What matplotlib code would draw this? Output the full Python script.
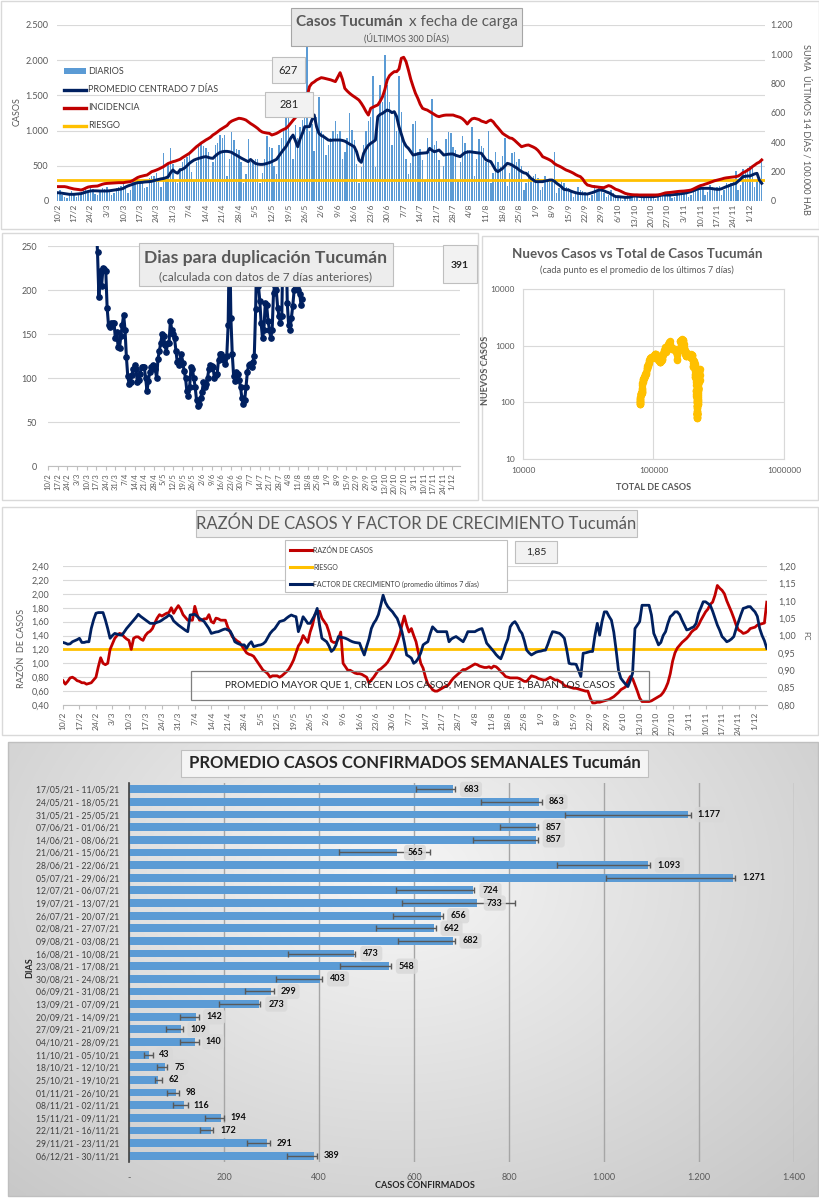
import numpy as np
import matplotlib
matplotlib.use("Agg")
import matplotlib.pyplot as plt
from matplotlib.patches import Rectangle
from matplotlib.ticker import NullLocator

plt.rcParams['font.family'] = ['Lato', 'DejaVu Sans']

W, H = 820, 1200

# ----------------------------------------------------------------- DATA
TICK_LABELS = ["10/2", "17/2", "24/2", "3/3", "10/3", "17/3", "24/3", "31/3", "7/4", "14/4",
               "21/4", "28/4", "5/5", "12/5", "19/5", "26/5", "2/6", "9/6", "16/6", "23/6",
               "30/6", "7/7", "14/7", "21/7", "28/7", "4/8", "11/8", "18/8", "25/8", "1/9",
               "8/9", "15/9", "22/9", "29/9", "6/10", "13/10", "20/10", "27/10", "3/11",
               "10/11", "17/11", "24/11", "1/12"]

DIARIOS = [130, 160, 90, 60, 40, 120, 140,
           110, 60, 80, 120, 150, 170, 130,
           190, 170, 100, 80, 150, 190, 170,
           200, 140, 90, 110, 180, 200, 210,
           260, 190, 120, 150, 280, 300, 320,
           300, 260, 180, 200, 330, 360, 350,
           400, 320, 200, 680, 280, 520, 750,
           520, 300, 250, 470, 560, 600, 620,
           700, 410, 300, 560, 760, 820, 780,
           750, 700, 300, 560, 800, 820, 940,
           900, 940, 350, 600, 980, 860, 740,
           720, 560, 250, 380, 880, 560, 580,
           600, 590, 250, 400, 600, 930, 760,
           750, 500, 380, 800, 900, 1000, 1210,
           1180, 920, 600, 1080, 900, 1050, 1150,
           1300, 2250, 1000, 1100, 710, 1200, 1480,
           1000, 950, 650, 800, 900, 1000, 1140,
           950, 1000, 600, 700, 900, 1250, 1010,
           870, 520, 250, 480, 800, 1000, 1140,
           1200, 1770, 480, 1100, 1650, 1400, 2070,
           1650, 1400, 800, 1280, 1000, 1780, 1270,
           900, 600, 380, 540, 1100, 1130, 700,
           740, 580, 300, 900, 700, 1450, 800,
           850, 580, 300, 500, 880, 980, 960,
           760, 720, 280, 560, 920, 830, 720,
           700, 1050, 350, 600, 880, 780, 750,
           560, 990, 250, 400, 700, 560, 480,
           640, 890, 220, 400, 680, 700, 560,
           600, 500, 150, 250, 420, 300, 350,
           380, 330, 150, 200, 360, 280, 300,
           310, 700, 120, 180, 300, 250, 200,
           180, 150, 60, 100, 200, 150, 140,
           130, 110, 40, 80, 230, 150, 180,
           190, 120, 50, 90, 150, 110, 80,
           70, 60, 20, 40, 80, 60, 50,
           80, 70, 20, 40, 90, 70, 60,
           70, 80, 30, 50, 100, 90, 80,
           110, 100, 40, 60, 130, 120, 110,
           140, 150, 60, 90, 190, 180, 170,
           210, 200, 80, 130, 230, 200, 190,
           200, 210, 90, 150, 250, 240, 260,
           300, 420, 160, 230, 460, 440, 470,
           500, 480, 200, 300, 310, 600]

PROMEDIO_7D = [118, 115, 110, 105, 100, 95, 95,
               95, 98, 100, 105, 115, 125, 135,
               142, 145, 145, 143, 142, 142, 142,
               142, 145, 150, 155, 160, 165, 170,
               180, 200, 215, 227, 240, 250, 260,
               262, 265, 270, 272, 275, 280, 290,
               298, 305, 315, 320, 330, 345, 400,
               440, 410, 395, 440, 450, 470, 500,
               535, 560, 582, 595, 606, 615, 625,
               630, 620, 610, 606, 640, 668, 690,
               700, 705, 705, 700, 690, 668, 650,
               630, 610, 592, 575, 559, 590, 560,
               535, 525, 520, 520, 525, 535, 545,
               559, 575, 592, 640, 686, 730, 771,
               830, 890, 937, 860, 771, 880, 961,
               1056, 1056, 1056, 1150, 1222, 1056, 961,
               930, 914, 890, 866, 860, 866, 866,
               866, 866, 860, 850, 829, 810, 790,
               771, 700, 582, 549, 677, 740, 790,
               819, 840, 866, 1198, 1230, 1245, 1270,
               1293, 1280, 1255, 1269, 1200, 1056, 950,
               843, 780, 748, 700, 653, 660, 670,
               677, 680, 684, 686, 748, 720, 700,
               710, 724, 690, 653, 660, 665, 668,
               668, 650, 640, 630, 660, 686, 695,
               700, 695, 690, 686, 682, 677, 630,
               582, 570, 559, 500, 440, 417, 440,
               464, 500, 535, 525, 511, 488, 470,
               440, 420, 400, 393, 360, 322, 300,
               275, 275, 275, 275, 285, 290, 298,
               298, 280, 250, 227, 200, 166, 160,
               156, 140, 128, 118, 110, 105, 102,
               100, 99, 108, 118, 130, 145, 156,
               156, 145, 130, 118, 100, 80, 62,
               62, 58, 55, 52, 52, 55, 65,
               71, 68, 65, 62, 62, 62, 62,
               62, 62, 65, 70, 80, 85, 85,
               85, 85, 88, 92, 95, 100, 105,
               109, 115, 125, 133, 145, 160, 172,
               180, 180, 180, 180, 180, 175, 170,
               166, 166, 175, 190, 204, 215, 230,
               240, 251, 280, 310, 345, 350, 355,
               355, 370, 385, 393, 298, 251]

INCIDENCIA = [98, 98, 98, 98, 95, 90, 86,
              82, 80, 78, 75, 80, 88, 95,
              98, 100, 101, 102, 108, 114, 118,
              120, 121, 122, 123, 124, 125, 125,
              125, 128, 130, 132, 140, 150, 160,
              166, 170, 174, 177, 188, 200, 205,
              211, 218, 226, 234, 245, 256, 262,
              268, 272, 278, 284, 295, 305, 315,
              325, 340, 355, 370, 382, 395, 405,
              416, 425, 435, 450, 460, 472, 485,
              495, 505, 515, 534, 545, 552, 558,
              564, 562, 558, 552, 540, 528, 518,
              507, 495, 480, 470, 466, 463, 461,
              450, 455, 461, 470, 480, 488, 495,
              510, 530, 550, 568, 586, 615, 643,
              680, 711, 780, 802, 812, 825, 833,
              841, 838, 834, 830, 826, 820, 814,
              845, 875, 830, 768, 750, 735, 722,
              711, 700, 688, 666, 640, 610, 586,
              632, 640, 648, 655, 680, 711, 760,
              825, 855, 870, 882, 882, 900, 973,
              980, 950, 893, 830, 780, 734, 700,
              660, 632, 625, 620, 610, 600, 590,
              580, 575, 580, 584, 586, 586, 586,
              586, 580, 575, 570, 560, 545, 525,
              545, 560, 564, 560, 555, 545, 540,
              534, 545, 552, 540, 518, 500, 480,
              461, 450, 440, 430, 427, 415, 400,
              385, 370, 375, 380, 382, 375, 368,
              359, 345, 325, 302, 295, 288, 280,
              270, 255, 245, 238, 230, 220, 211,
              205, 198, 190, 180, 172, 166, 150,
              125, 109, 105, 100, 98, 96, 94,
              92, 91, 98, 105, 100, 90, 80,
              75, 68, 60, 52, 48, 45, 43,
              42, 42, 41, 41, 41, 41, 41,
              41, 41, 41, 42, 45, 50, 55,
              57, 58, 60, 62, 64, 66, 67,
              68, 70, 72, 75, 82, 90, 98,
              105, 109, 115, 120, 126, 132, 138,
              142, 146, 150, 155, 158, 160, 162,
              164, 166, 170, 180, 193, 200, 210,
              220, 234, 245, 257, 265, 280]

RIESGO_CASOS = 300
ETIQUETA_A = "627"
ETIQUETA_B = "281"

RAZON = [0.75, 0.70, 0.74, 0.79, 0.80, 0.78, 0.75,
         0.74, 0.72, 0.72, 0.70, 0.71, 0.72, 0.76,
         0.80, 0.95, 1.08, 1.00, 0.98, 1.00, 1.20,
         1.28, 1.36, 1.40, 1.43, 1.42, 1.38, 1.35,
         1.33, 1.20, 1.36, 1.38, 1.38, 1.35, 1.33,
         1.40, 1.44, 1.46, 1.50, 1.58, 1.65, 1.70,
         1.68, 1.70, 1.72, 1.73, 1.80, 1.72, 1.78,
         1.83, 1.78, 1.70, 1.66, 1.62, 1.62, 1.62,
         1.82, 1.70, 1.62, 1.62, 1.64, 1.64, 1.70,
         1.60, 1.58, 1.65, 1.64, 1.62, 1.62, 1.62,
         1.52, 1.45, 1.38, 1.35, 1.32, 1.30, 1.25,
         1.20, 1.15, 1.13, 1.12, 1.10, 1.05, 1.00,
         0.95, 0.90, 0.88, 0.85, 0.80, 0.82, 0.82,
         0.82, 0.80, 0.82, 0.85, 0.88, 0.92, 0.98,
         1.05, 1.15, 1.25, 1.30, 1.40, 1.35, 1.30,
         1.45, 1.55, 1.70, 1.74, 1.75, 1.65, 1.60,
         1.55, 1.45, 1.32, 1.30, 1.30, 1.35, 1.45,
         1.00, 0.95, 0.90, 0.90, 0.88, 0.86, 0.85,
         0.85, 0.84, 0.82, 0.80, 0.72, 0.76, 0.80,
         0.85, 0.90, 0.92, 0.95, 0.98, 1.02, 1.08,
         1.15, 1.22, 1.30, 1.40, 1.55, 1.68, 1.55,
         1.45, 1.50, 1.40, 1.31, 1.15, 1.00, 0.93,
         0.80, 0.70, 0.67, 0.62, 0.60, 0.60, 0.62,
         0.64, 0.66, 0.67, 0.70, 0.75, 0.79, 0.82,
         0.85, 0.88, 0.91, 0.91, 0.93, 0.95, 0.97,
         0.99, 0.98, 0.96, 0.95, 0.94, 0.94, 0.95,
         0.93, 0.96, 0.95, 0.92, 0.88, 0.85, 0.81,
         0.80, 0.79, 0.79, 0.79, 0.79, 0.78, 0.76,
         0.74, 0.74, 0.78, 0.82, 0.81, 0.80, 0.78,
         0.77, 0.76, 0.76, 0.78, 0.80, 0.78, 0.76,
         0.76, 0.74, 0.72, 0.68, 0.67, 0.66, 0.65,
         0.64, 0.64, 0.63, 0.62, 0.61, 0.60, 0.60,
         0.50, 0.43, 0.43, 0.44, 0.44, 0.45, 0.46,
         0.47, 0.48, 0.50, 0.52, 0.55, 0.58, 0.62,
         0.64, 0.66, 0.75, 0.81, 0.78, 0.69, 0.60,
         0.50, 0.45, 0.45, 0.45, 0.45, 0.46, 0.48,
         0.50, 0.52, 0.54, 0.58, 0.64, 0.72, 0.85,
         1.03, 1.15, 1.22, 1.26, 1.30, 1.33, 1.36,
         1.40, 1.45, 1.48, 1.50, 1.55, 1.62, 1.68,
         1.74, 1.78, 1.85, 1.88, 1.98, 2.12, 2.08,
         2.05, 2.00, 1.90, 1.82, 1.74, 1.65, 1.55,
         1.48, 1.46, 1.43, 1.44, 1.46, 1.50, 1.51,
         1.52, 1.55, 1.56, 1.57, 1.58, 1.88]

FACTOR = [0.980, 0.978, 0.975, 0.976, 0.982, 0.985, 0.988,
          0.992, 0.980, 0.980, 0.982, 0.982, 1.020, 1.045,
          1.064, 1.066, 1.066, 1.066, 1.045, 1.020, 0.992,
          1.000, 1.006, 1.004, 1.002, 1.001, 1.010, 1.020,
          1.028, 1.036, 1.044, 1.052, 1.061, 1.055, 1.050,
          1.045, 1.040, 1.035, 1.035, 1.035, 1.038, 1.040,
          1.044, 1.049, 1.053, 1.059, 1.055, 1.042, 1.036,
          1.030, 1.025, 1.020, 1.015, 1.011, 1.059, 1.060,
          1.061, 1.055, 1.049, 1.045, 1.040, 1.030, 1.020,
          1.006, 1.008, 1.010, 1.011, 1.014, 1.017, 1.019,
          1.016, 1.013, 1.000, 0.982, 0.978, 0.975, 0.973,
          0.973, 0.963, 0.975, 0.982, 0.968, 0.970, 0.972,
          0.973, 0.976, 0.982, 0.994, 1.006, 1.014, 1.020,
          1.030, 1.040, 1.042, 1.044, 1.050, 1.055, 1.059,
          1.056, 1.054, 1.011, 1.030, 1.054, 1.045, 1.035,
          1.035, 1.047, 1.059, 1.078, 1.030, 0.992, 0.987,
          0.982, 0.970, 0.954, 0.960, 0.973, 0.997, 0.995,
          0.994, 0.992, 0.989, 0.985, 0.982, 0.980, 0.979,
          0.978, 0.960, 0.944, 0.968, 0.990, 1.020, 1.035,
          1.045, 1.060, 1.087, 1.116, 1.095, 1.083, 1.075,
          1.068, 1.058, 1.049, 1.030, 1.011, 0.980, 0.944,
          0.940, 0.935, 0.920, 0.925, 0.935, 0.950, 0.973,
          0.978, 0.982, 1.005, 1.025, 1.018, 1.011, 1.011,
          1.011, 1.011, 1.011, 0.982, 0.990, 0.994, 0.997,
          0.992, 0.987, 0.982, 0.995, 1.011, 1.011, 1.011,
          1.011, 1.015, 1.018, 1.020, 1.000, 0.978, 0.970,
          0.962, 0.954, 0.945, 0.938, 0.933, 0.950, 0.973,
          0.990, 1.025, 1.035, 1.040, 1.030, 1.015, 1.006,
          0.985, 0.958, 0.950, 0.944, 0.948, 0.952, 0.954,
          0.955, 0.957, 0.958, 0.975, 0.995, 1.011, 1.010,
          1.008, 1.006, 1.000, 0.992, 0.960, 0.920, 0.918,
          0.918, 0.917, 0.900, 0.882, 0.949, 0.950, 0.952,
          0.954, 0.954, 1.000, 1.035, 1.001, 1.040, 1.068,
          1.068, 1.055, 1.044, 1.010, 0.958, 0.900, 0.877,
          0.868, 0.860, 0.853, 0.870, 0.892, 1.020, 1.030,
          1.040, 1.087, 1.087, 1.087, 1.087, 1.059, 1.006,
          0.990, 0.973, 0.980, 1.000, 1.011, 1.035, 1.054,
          1.060, 1.068, 1.068, 1.060, 1.044, 1.030, 1.016,
          1.018, 1.022, 1.025, 1.035, 1.064, 1.080, 1.097,
          1.097, 1.092, 1.087, 1.070, 1.050, 1.030, 1.015,
          0.997, 0.990, 0.982, 0.985, 0.990, 0.997, 1.020,
          1.040, 1.060, 1.078, 1.080, 1.083, 1.083, 1.075,
          1.068, 1.055, 1.020, 1.000, 0.985, 0.963]

RIESGO_RAZON = 1.20
ETIQUETA_RAZON = "1,85"

DUPLICACION_INICIO = 35   # dia 35 desde el 10/2 = 17/3
DUPLICACION = [280, 243, 192, 222, 205, 225, 224, 222, 180, 160,
               158, 163, 163, 163, 145, 152, 135, 134, 148, 160,
               172, 155, 124, 102, 93, 96, 103, 110, 115, 110,
               95, 98, 105, 113, 112, 112, 100, 85, 97, 107,
               112, 115, 112, 110, 100, 122, 131, 140, 150, 148,
               138, 130, 140, 140, 165, 155, 150, 145, 131, 118,
               115, 120, 127, 117, 108, 100, 85, 80, 90, 112,
               110, 100, 90, 75, 68, 70, 77, 84, 95, 90,
               93, 100, 110, 115, 114, 112, 100, 103, 105, 120,
               127, 127, 124, 120, 116, 125, 160, 270, 168, 127,
               102, 97, 107, 105, 98, 90, 77, 70, 75, 90,
               107, 115, 116, 113, 118, 125, 178, 260, 205, 188,
               162, 145, 155, 185, 183, 165, 155, 145, 155, 197,
               205, 200, 180, 170, 163, 170, 260, 265, 270, 185,
               160, 155, 168, 182, 200, 210, 205, 200, 196, 183,
               190]
ETIQUETA_DUPLICACION = "391"

TOTAL_INICIAL = 78000

SEMANAS = ["17/05/21 - 11/05/21", "24/05/21 - 18/05/21", "31/05/21 - 25/05/21",
           "07/06/21 - 01/06/21", "14/06/21 - 08/06/21", "21/06/21 - 15/06/21",
           "28/06/21 - 22/06/21", "05/07/21 - 29/06/21", "12/07/21 - 06/07/21",
           "19/07/21 - 13/07/21", "26/07/21 - 20/07/21", "02/08/21 - 27/07/21",
           "09/08/21 - 03/08/21", "16/08/21 - 10/08/21", "23/08/21 - 17/08/21",
           "30/08/21 - 24/08/21", "06/09/21 - 31/08/21", "13/09/21 - 07/09/21",
           "20/09/21 - 14/09/21", "27/09/21 - 21/09/21", "04/10/21 - 28/09/21",
           "11/10/21 - 05/10/21", "18/10/21 - 12/10/21", "25/10/21 - 19/10/21",
           "01/11/21 - 26/10/21", "08/11/21 - 02/11/21", "15/11/21 - 09/11/21",
           "22/11/21 - 16/11/21", "29/11/21 - 23/11/21", "06/12/21 - 30/11/21"]
PROMEDIO_SEMANAL = [683, 863, 1177, 857, 857, 565, 1093, 1271, 724, 733,
                    656, 642, 682, 473, 548, 403, 299, 273, 142, 109,
                    140, 43, 75, 62, 98, 116, 194, 172, 291, 389]
ERR_MENOS = [79, 122, 259, 77, 133, 123, 193, 267, 161, 158,
             101, 121, 115, 139, 104, 94, 55, 83, 34, 31,
             33, 11, 15, 7, 19, 23, 34, 23, 43, 56]
ERR_MAS = [3, 6, 6, 4, 4, 69, 4, 5, 3, 80,
           4, 4, 4, 3, 4, 4, 6, 3, 6, 5,
           7, 7, 6, 7, 7, 9, 5, 5, 6, 6]

# ----------------------------------------------------------------- STYLE
GRIS = "#595959"
GRID = "#D9D9D9"
AZUL_BAR = "#5B9BD5"
NAVY = "#002060"
ROJO = "#C00000"
AMARILLO = "#FFC000"


def R(x0, y0, x1, y1):
    return [x0 / W, 1 - y1 / H, (x1 - x0) / W, (y1 - y0) / H]


def miles(v):
    return f"{int(round(v)):,}".replace(",", ".")


def dec2(v):
    return f"{v:.2f}".replace(".", ",")


fig = plt.figure(figsize=(W / 100, H / 100), dpi=100)

# background layer
bg = fig.add_axes([0, 0, 1, 1], zorder=-5)
bg.set_xlim(0, W)
bg.set_ylim(H, 0)
bg.axis("off")

# gradient for bottom panel
gx = np.linspace(0, 1, 200)
gy = np.linspace(0, 1, 120)
GX, GY = np.meshgrid(gx, gy)
gd = np.sqrt(((GX - 0.48) / 0.75) ** 2 + ((GY - 0.30) / 1.0) ** 2)
shade = 0.965 - 0.19 * np.clip(gd, 0, 1)
img = np.dstack([shade, shade, shade])
bg.imshow(img, extent=(8, 818, 1196, 742), aspect="auto", interpolation="bilinear", zorder=0)

for (x0, y0, x1, y1, ec) in [(1, 1, 819, 229, "#D9D9D9"), (2, 233, 478, 500, "#D9D9D9"),
                              (482, 236, 818, 500, "#D9D9D9"), (2, 507, 818, 735, "#D9D9D9"),
                              (8, 742, 818, 1196, "#BFBFBF")]:
    bg.add_patch(Rectangle((x0, y0), x1 - x0, y1 - y0, fc="none", ec=ec, lw=1.0, zorder=1))

# overlay layer
ov = fig.add_axes([0, 0, 1, 1], zorder=10)
ov.set_xlim(0, W)
ov.set_ylim(H, 0)
ov.axis("off")
ov.patch.set_alpha(0)


def caja(x0, y0, x1, y1, fc, ec="#BFBFBF", lw=0.8, z=1):
    ov.add_patch(Rectangle((x0, y0), x1 - x0, y1 - y0, fc=fc, ec=ec, lw=lw, zorder=z))


def date_ticks(ax, fs, length):
    pos = [7 * i for i in range(len(TICK_LABELS))]
    ax.set_xticks(pos)
    ax.set_xticklabels(TICK_LABELS, rotation=90, fontsize=fs, color=GRIS)
    ax.tick_params(axis="x", length=length, color="#BFBFBF", pad=2)


# ================================================================= PANEL 1
ax1 = fig.add_axes(R(57, 25, 765, 201))
ax1.set_facecolor("none")
xd = np.arange(len(DIARIOS))
ax1.bar(xd, DIARIOS, width=0.6, color=AZUL_BAR, zorder=2)
ax1.plot(np.arange(len(PROMEDIO_7D)), PROMEDIO_7D, color=NAVY, lw=2.1, zorder=4)
ax1.plot([xd[0], xd[-1] + 1], [RIESGO_CASOS, RIESGO_CASOS], color=AMARILLO, lw=2.0, zorder=3)
ax1.set_xlim(-0.2, 300.4)
ax1.set_ylim(0, 2500)
ax1.set_yticks(range(0, 2501, 500))
ax1.set_yticklabels([miles(v) for v in range(0, 2501, 500)], fontsize=6.5, color=GRIS)
ax1.tick_params(axis="y", length=0, pad=6)
ax1.yaxis.grid(True, color=GRID, lw=0.8)
ax1.set_axisbelow(True)
for s in ax1.spines.values():
    s.set_visible(False)
date_ticks(ax1, 6, 0)

ax1r = ax1.twinx()
ax1r.plot(np.arange(len(INCIDENCIA)), INCIDENCIA, color=ROJO, lw=2.1, zorder=5)
ax1r.set_ylim(0, 1200)
ax1r.set_yticks(range(0, 1201, 200))
ax1r.set_yticklabels([miles(v) for v in range(0, 1201, 200)], fontsize=6.3, color=GRIS)
ax1r.tick_params(axis="y", length=0, pad=4)
for s in ax1r.spines.values():
    s.set_visible(False)

ov.text(17, 112, "CASOS", rotation=90, fontsize=6.5, color=GRIS, ha="center", va="center")
ov.text(806, 129, "SUMA  ÚLTIMOS 14 DÍAS / 100.000 HAB", rotation=270, fontsize=6.6,
        color=GRIS, ha="center", va="center")

# legend
ov.add_patch(Rectangle((64, 68), 22, 6, fc=AZUL_BAR, ec="none"))
ov.text(88, 72, "DIARIOS", fontsize=6.5, color="#404040", va="center")
for yy, col, lab in [(90, NAVY, "PROMEDIO CENTRADO 7 DÍAS"), (108, ROJO, "INCIDENCIA"),
                     (126, AMARILLO, "RIESGO")]:
    ov.plot([64, 86], [yy, yy], color=col, lw=2.4)
    ov.text(88, yy, lab, fontsize=6.5, color="#404040", va="center")

caja(291, 8, 522, 46, "#E7E7E7", "#A6A6A6")
ov.text(403, 22, "Casos Tucumán", fontsize=11, fontweight="bold", color=GRIS, ha="right", va="center")
ov.text(409, 22, "x fecha de carga", fontsize=11, color=GRIS, ha="left", va="center")
ov.text(406, 38, "(ÚLTIMOS 300 DÍAS)", fontsize=6.5, color=GRIS, ha="center", va="center")

caja(272, 57, 305, 83, "#F2F2F2")
ov.text(288.5, 70, ETIQUETA_A, fontsize=8, color="#262626", ha="center", va="center")
caja(265, 92, 313, 117, "#F2F2F2")
ov.text(289, 104.5, ETIQUETA_B, fontsize=8, color="#262626", ha="center", va="center")

# ================================================================= PANEL 2a
ax2 = fig.add_axes(R(48, 246, 460, 466))
ax2.set_facecolor("none")
xdup = np.arange(len(DUPLICACION)) + DUPLICACION_INICIO
ax2.plot(xdup, DUPLICACION, color=NAVY, lw=2.2, marker="o", ms=3.8, zorder=3)
ax2.set_xlim(0, 299.6)
ax2.set_ylim(0, 250)
ax2.set_yticks(range(0, 251, 50))
ax2.set_yticklabels([str(v) for v in range(0, 251, 50)], fontsize=6.5, color=GRIS)
ax2.tick_params(axis="y", length=0, pad=8)
ax2.yaxis.grid(True, color=GRID, lw=0.8)
ax2.set_axisbelow(True)
for k, s in ax2.spines.items():
    s.set_visible(k == "bottom")
ax2.spines["bottom"].set_color("#BFBFBF")
date_ticks(ax2, 5.5, 3)

caja(139, 243, 393, 286, "#EDEDED", "#BFBFBF")
ov.text(266, 258, "Dias para duplicación Tucumán", fontsize=12.6, fontweight="bold", color=GRIS,
        ha="center", va="center")
ov.text(266, 277, "(calculada con datos de 7 días anteriores)", fontsize=8.5, color=GRIS,
        ha="center", va="center")
caja(443, 245, 477, 283, "#F2F2F2")
ov.text(460, 265, ETIQUETA_DUPLICACION, fontsize=7.5, fontweight="bold", color="#262626",
        ha="center", va="center")

# ================================================================= PANEL 2b
ax3 = fig.add_axes(R(523, 289, 784, 459))
ax3.set_facecolor("none")
total = TOTAL_INICIAL + np.cumsum(DIARIOS)
m = min(len(total), len(PROMEDIO_7D))
ax3.plot(total[:m], PROMEDIO_7D[:m], color=AMARILLO, lw=2.5, marker="o", ms=4.4,
         mec=AMARILLO, mfc=AMARILLO, zorder=3)
ax3.set_xscale("log")
ax3.set_yscale("log")
ax3.set_xlim(1e4, 1e6)
ax3.set_ylim(10, 1e4)
ax3.xaxis.set_minor_locator(NullLocator())
ax3.yaxis.set_minor_locator(NullLocator())
ax3.set_xticks([1e4, 1e5, 1e6])
ax3.set_xticklabels(["10000", "100000", "1000000"], fontsize=6, color=GRIS)
ax3.set_yticks([10, 100, 1000, 10000])
ax3.set_yticklabels(["10", "100", "1000", "10000"], fontsize=6, color=GRIS)
ax3.tick_params(length=0, pad=6)
ax3.grid(True, which="major", color=GRID, lw=0.8)
ax3.set_axisbelow(True)
for s in ax3.spines.values():
    s.set_color(GRID)
ov.text(637, 254, "Nuevos Casos vs Total de Casos Tucumán", fontsize=9.6, fontweight="bold",
        color=GRIS, ha="center", va="center")
ov.text(637, 270, "(cada punto es el promedio de los últimos 7 días)", fontsize=6.6,
        color=GRIS, ha="center", va="center")
ov.text(654, 488, "TOTAL DE CASOS", fontsize=6.5, fontweight="bold", color=GRIS,
        ha="center", va="center")
ov.text(486, 370, "NUEVOS CASOS", rotation=90, fontsize=6.5, fontweight="bold", color=GRIS,
        ha="center", va="center")

# ================================================================= PANEL 3
ax4 = fig.add_axes(R(63, 566, 767, 705))
ax4.set_facecolor("none")
ax4.plot(np.arange(len(RAZON)), RAZON, color=ROJO, lw=2.0, zorder=3)
ax4.plot([0, len(RAZON) - 1], [RIESGO_RAZON, RIESGO_RAZON], color=AMARILLO, lw=2.0, zorder=2)
ax4.set_xlim(0, 299.1)
ax4.set_ylim(0.4, 2.4)
yt = [0.4 + 0.2 * i for i in range(11)]
ax4.set_yticks(yt)
ax4.set_yticklabels([dec2(v) for v in yt], fontsize=6.5, color=GRIS)
ax4.tick_params(axis="y", length=0, pad=10)
ax4.yaxis.grid(True, color=GRID, lw=0.8)
ax4.set_axisbelow(True)
for k, s in ax4.spines.items():
    s.set_visible(k == "bottom")
ax4.spines["bottom"].set_color("#BFBFBF")
date_ticks(ax4, 6, 3)

ax4r = ax4.twinx()
ax4r.plot(np.arange(len(FACTOR)), FACTOR, color=NAVY, lw=2.0, zorder=4)
ax4r.set_ylim(0.8, 1.2)
yr = [0.8 + 0.05 * i for i in range(9)]
ax4r.set_yticks(yr)
ax4r.set_yticklabels([dec2(v) for v in yr], fontsize=6.5, color=GRIS)
ax4r.tick_params(axis="y", length=0, pad=8)
for s in ax4r.spines.values():
    s.set_visible(False)

ov.text(22, 648, "RAZÓN  DE CASOS", rotation=90, fontsize=6.5, color=GRIS, ha="center", va="center")
ov.text(806, 636, "FC", rotation=270, fontsize=5.5, color=GRIS, ha="center", va="center")

caja(196, 510, 637, 537, "#EDEDED", "#BFBFBF")
ov.text(416.5, 523.5, "RAZÓN DE CASOS Y FACTOR DE CRECIMIENTO Tucumán", fontsize=12,
        color=GRIS, ha="center", va="center")
caja(285, 540, 507, 592, "white", "#BFBFBF")
for yy, col, lab in [(550, ROJO, "RAZÓN DE CASOS"), (567, AMARILLO, "RIESGO"),
                     (584, NAVY, "FACTOR DE CRECIMIENTO (promedio últimos 7 días)")]:
    ov.plot([290, 312], [yy, yy], color=col, lw=2.2, zorder=2)
    ov.text(313, yy, lab, fontsize=5.0, color="#404040", va="center", zorder=2)
caja(515, 541, 557, 563, "#F2F2F2")
ov.text(536, 552, ETIQUETA_RAZON, fontsize=7.5, color="#262626", ha="center", va="center")

ov.add_patch(Rectangle((191, 671), 458, 29, fc="none", ec="#7F7F7F", lw=0.9, zorder=0.5))
ov.text(420, 686, "PROMEDIO MAYOR QUE 1, CRECEN LOS CASOS, MENOR QUE 1, BAJAN LOS CASOS",
        fontsize=7.2, color="#262626", ha="center", va="center", zorder=0.5)

# ================================================================= PANEL 4
ax5 = fig.add_axes(R(129, 783, 794, 1162))
ax5.set_facecolor("none")
yb = np.arange(len(SEMANAS))
ax5.barh(yb, PROMEDIO_SEMANAL, height=0.62, color=AZUL_BAR, zorder=2,
         xerr=[ERR_MENOS, ERR_MAS],
         error_kw=dict(ecolor="#595959", elinewidth=1.0, capsize=2.2, capthick=1.0, zorder=3))
ax5.set_ylim(len(SEMANAS) - 0.5, -0.5)
ax5.set_xlim(0, 1400)
ax5.set_yticks(yb)
ax5.set_yticklabels(SEMANAS, fontsize=6.2, color="#404040")
ax5.tick_params(axis="y", length=0, pad=7)
xt = list(range(0, 1401, 200))
ax5.set_xticks(xt)
ax5.set_xticklabels(["-"] + [miles(v) for v in xt[1:]], fontsize=6.5, color=GRIS)
ax5.tick_params(axis="x", length=0, pad=8)
ax5.xaxis.grid(True, color="#A6A6A6", lw=1.0)
ax5.set_axisbelow(True)
for k, s in ax5.spines.items():
    s.set_visible(k == "left")
ax5.spines["left"].set_color("#404040")
ax5.spines["left"].set_linewidth(1.2)
ax5.spines["left"].set_zorder(4)
for i, v in enumerate(PROMEDIO_SEMANAL):
    ax5.annotate(miles(v), (v, i), xytext=(7, 0), textcoords="offset points",
                 ha="left", va="center", fontsize=6.5, fontweight="bold", color="#0D0D0D",
                 zorder=5,
                 bbox=dict(boxstyle="round,pad=0.35", fc="#D9D9D9", ec="none", alpha=0.85))

caja(181, 750, 648, 777, "#F4F4F4", "#BFBFBF")
ov.text(414.5, 763.5, "PROMEDIO CASOS CONFIRMADOS SEMANALES Tucumán", fontsize=12,
        fontweight="bold", color="#262626", ha="center", va="center")
ov.text(30, 968, "DIAS", rotation=90, fontsize=6.5, fontweight="bold", color="#262626",
        ha="center", va="center")
ov.text(425, 1186, "CASOS CONFIRMADOS", fontsize=6.5, fontweight="bold", color="#262626",
        ha="center", va="center")

fig.savefig("out.png", dpi=100)
